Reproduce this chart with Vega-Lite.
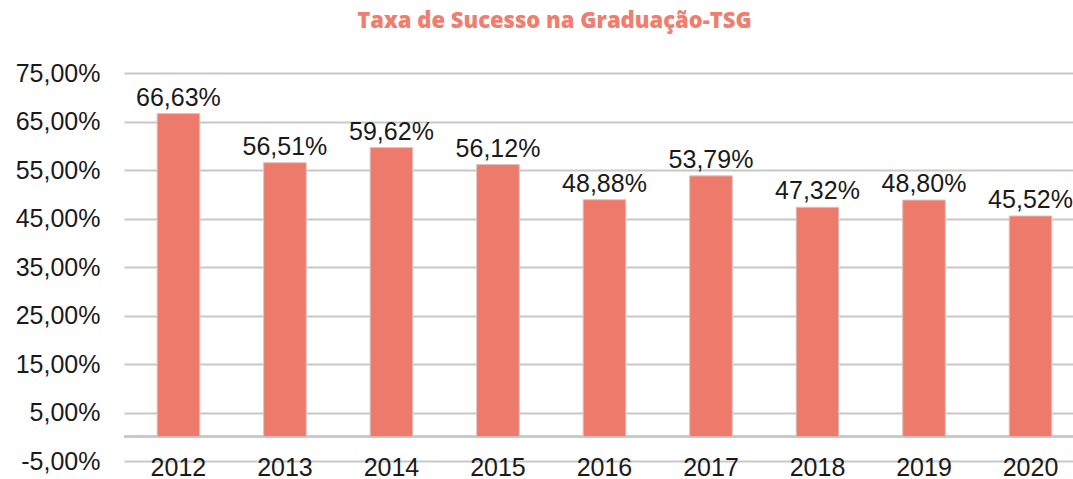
{
  "$schema": "https://vega.github.io/schema/vega-lite/v6.json",
  "width": 949,
  "height": 388,
  "autosize": "none",
  "padding": {"left": 124, "top": 73, "right": 0, "bottom": 18},
  "config": {
    "view": {"stroke": null},
    "font": "Liberation Sans",
    "locale": {"number": {"decimal": ",", "thousands": ".", "grouping": [3], "currency": ["", ""], "minus": "-"}}
  },
  "title": {
    "text": "Taxa de Sucesso na Graduação-TSG",
    "font": "Open Sans",
    "fontWeight": 800,
    "fontSize": 22,
    "color": "#EF7E6E",
    "anchor": "middle",
    "offset": 28,
    "dx": -44
  },
  "data": {
    "values": [
      {"ano": "2012", "taxa": 0.6663},
      {"ano": "2013", "taxa": 0.5651},
      {"ano": "2014", "taxa": 0.5962},
      {"ano": "2015", "taxa": 0.5612},
      {"ano": "2016", "taxa": 0.4888},
      {"ano": "2017", "taxa": 0.5379},
      {"ano": "2018", "taxa": 0.4732},
      {"ano": "2019", "taxa": 0.4880},
      {"ano": "2020", "taxa": 0.4552}
    ]
  },
  "encoding": {
    "x": {
      "field": "ano",
      "type": "nominal",
      "sort": null,
      "scale": {"paddingInner": 0.6, "paddingOuter": 0.255, "align": 0.61},
      "axis": {
        "title": null,
        "labelAngle": 0,
        "ticks": false,
        "domain": false,
        "labelFontSize": 25,
        "labelColor": "#1a1a1a",
        "labelBaseline": "top",
        "labelPadding": -6
      }
    },
    "y": {
      "field": "taxa",
      "type": "quantitative",
      "scale": {"domain": [-0.05, 0.75], "nice": false},
      "axis": {
        "title": null,
        "values": [-0.05, 0.05, 0.15, 0.25, 0.35, 0.45, 0.55, 0.65, 0.75],
        "format": ".2%",
        "labelExpr": "replace(datum.label, '−', '-')",
        "ticks": false,
        "domain": false,
        "labelFontSize": 25,
        "labelColor": "#1a1a1a",
        "labelPadding": 24,
        "gridColor": "#c8c8c8",
        "gridWidth": 2
      }
    }
  },
  "layer": [
    {
      "mark": {"type": "rule", "color": "#c8c8c8", "strokeWidth": 2},
      "encoding": {"y": {"datum": 0}, "x": null}
    },
    {
      "mark": {"type": "bar", "color": "#EE7A6B", "stroke": "#d9c4c0", "strokeWidth": 1}
    },
    {
      "mark": {"type": "text", "baseline": "bottom", "dy": -3, "fontSize": 25, "color": "#1a1a1a"},
      "encoding": {"text": {"field": "taxa", "type": "quantitative", "format": ".2%"}}
    }
  ]
}
